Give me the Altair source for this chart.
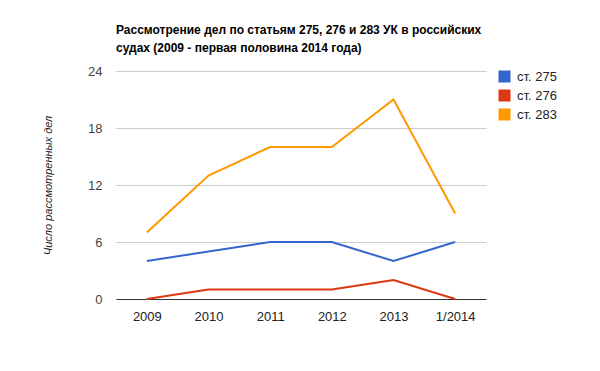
import altair as alt
import pandas as pd

years = ["2009", "2010", "2011", "2012", "2013", "1/2014"]
s275 = [4, 5, 6, 6, 4, 6]
s276 = [0, 1, 1, 1, 2, 0]
s283 = [7, 13, 16, 16, 21, 9]
series = ["ст. 275", "ст. 276", "ст. 283"]
colors = ["#3366cc", "#dc3912", "#ff9900"]

rows = []
for name, vals in zip(series, [s275, s276, s283]):
    for y, v in zip(years, vals):
        rows.append({"year": y, "value": v, "series": name})
df = pd.DataFrame(rows)

font = "Liberation Sans"

x_enc = alt.X("year:N", sort=years, title=None,
              scale=alt.Scale(type="point", padding=0.5),
              axis=alt.Axis(labelAngle=0, ticks=False, domain=True, domainColor="#333333",
                            labelPadding=11, labelFontSize=13, labelColor="#222222",
                            labelFont=font, grid=False))
y_enc = alt.Y("value:Q", title="Число рассмотренных дел",
              scale=alt.Scale(domain=[0, 24]),
              axis=alt.Axis(values=[0, 6, 12, 18, 24], ticks=False, domain=False,
                            labelPadding=14, labelFontSize=13, labelColor="#444444",
                            labelFont=font, gridColor="#cccccc",
                            titleFont=font, titleFontSize=11, titleFontStyle="italic",
                            titleFontWeight="normal", titleColor="#222222",
                            titleX=-68, titleY=114, titleBaseline="middle"))
legend = alt.Legend(title=None, orient="none", legendX=382, legendY=-1,
                    symbolType="square", symbolSize=144,
                    symbolStrokeWidth=0, symbolOpacity=1,
                    labelFont=font, labelFontSize=13,
                    labelColor="#222222", rowPadding=5, labelOffset=6)
c_enc = alt.Color("series:N", scale=alt.Scale(domain=series, range=colors), legend=legend)

base = alt.Chart(df)
lines = base.mark_line(strokeWidth=2).encode(x=x_enc, y=y_enc, color=c_enc)
keys = base.mark_square(size=0, filled=True).encode(x=x_enc, y=y_enc, color=c_enc)

chart = alt.layer(lines, keys).properties(
    width=370, height=228,
    title=alt.TitleParams(
        ["Рассмотрение дел по статьям 275, 276 и 283 УК в российских",
         "судах (2009 - первая половина 2014 года)"],
        anchor="start", font=font, fontSize=12, fontWeight="bold", color="#000000",
        lineHeight=18, offset=10, frame="group"),
    autosize=alt.AutoSizeParams(type="none"),
    padding={"left": 108, "top": 63, "right": 106, "bottom": 64},
).configure_view(stroke=None)

chart.save("out.html", embed_options={"renderer": "svg", "actions": False})
